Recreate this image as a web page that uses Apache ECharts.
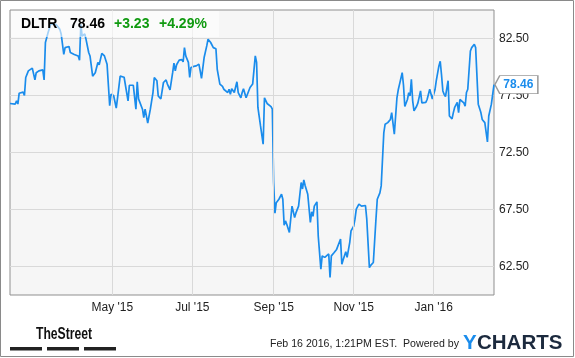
<!DOCTYPE html>
<html>
<head>
<meta charset="utf-8">
<script src="https://cdn.jsdelivr.net/npm/echarts@6/dist/echarts.min.js"></script>
<style>
html,body{margin:0;padding:0;background:#fff;}
#chart{width:575px;height:358px;}
</style>
</head>
<body>
<div id="chart"></div>
<script>
// ---- data ----
const ticker = 'DLTR';
const lastPrice = '78.46';
const change = '+3.23';
const changePct = '+4.29%';
const footerText = 'Feb 16 2016, 1:21PM EST.  Powered by';

const dates = [
'2015-02-12','2015-02-16','2015-02-17','2015-02-18','2015-02-19','2015-02-22','2015-02-23','2015-02-24','2015-02-25','2015-02-26',
'2015-03-01','2015-03-02','2015-03-03','2015-03-04','2015-03-06','2015-03-09','2015-03-10','2015-03-11','2015-03-13','2015-03-15',
'2015-03-16','2015-03-19','2015-03-22','2015-03-23','2015-03-25','2015-03-26','2015-03-29','2015-03-30','2015-04-02','2015-04-05',
'2015-04-06','2015-04-07','2015-04-08','2015-04-10','2015-04-11','2015-04-13','2015-04-14','2015-04-16','2015-04-18','2015-04-20',
'2015-04-21','2015-04-23','2015-04-25','2015-04-27','2015-04-29','2015-04-30','2015-05-02','2015-05-04','2015-05-05','2015-05-07',
'2015-05-10','2015-05-11','2015-05-13','2015-05-14','2015-05-17','2015-05-19','2015-05-20','2015-05-21','2015-05-24','2015-05-25',
'2015-05-26','2015-05-28','2015-05-30','2015-06-01','2015-06-02','2015-06-04','2015-06-05','2015-06-07','2015-06-08','2015-06-09',
'2015-06-11','2015-06-12','2015-06-14','2015-06-16','2015-06-17','2015-06-18','2015-06-19','2015-06-21','2015-06-22','2015-06-23',
'2015-06-24','2015-06-25','2015-06-26','2015-06-28','2015-06-29','2015-06-30','2015-07-02','2015-07-04','2015-07-06','2015-07-07',
'2015-07-08','2015-07-10','2015-07-12','2015-07-13','2015-07-15','2015-07-16','2015-07-17','2015-07-19','2015-07-20','2015-07-22',
'2015-07-24','2015-07-25','2015-07-26','2015-07-28','2015-07-29','2015-07-30','2015-07-31','2015-08-02','2015-08-03','2015-08-04',
'2015-08-05','2015-08-07','2015-08-08','2015-08-09','2015-08-11','2015-08-12','2015-08-14','2015-08-16','2015-08-18','2015-08-19',
'2015-08-20','2015-08-22','2015-08-24','2015-08-25','2015-08-27','2015-08-28','2015-08-30','2015-08-31','2015-09-01','2015-09-02',
'2015-09-03','2015-09-05','2015-09-07','2015-09-08','2015-09-09','2015-09-10','2015-09-11','2015-09-13','2015-09-15','2015-09-16',
'2015-09-17','2015-09-18','2015-09-20','2015-09-22','2015-09-23','2015-09-24','2015-09-25','2015-09-27','2015-09-29','2015-09-30',
'2015-10-01','2015-10-02','2015-10-04','2015-10-05','2015-10-07','2015-10-08','2015-10-10','2015-10-11','2015-10-13','2015-10-14',
'2015-10-15','2015-10-17','2015-10-19','2015-10-21','2015-10-22','2015-10-23','2015-10-24','2015-10-26','2015-10-27','2015-10-29',
'2015-10-30','2015-11-01','2015-11-02','2015-11-03','2015-11-04','2015-11-05','2015-11-07','2015-11-08','2015-11-10','2015-11-11',
'2015-11-12','2015-11-13','2015-11-14','2015-11-16','2015-11-18','2015-11-19','2015-11-21','2015-11-22','2015-11-24','2015-11-25',
'2015-11-27','2015-11-29','2015-11-30','2015-12-01','2015-12-02','2015-12-04','2015-12-05','2015-12-06','2015-12-08','2015-12-09',
'2015-12-10','2015-12-12','2015-12-13','2015-12-14','2015-12-15','2015-12-16','2015-12-17','2015-12-19','2015-12-20','2015-12-22',
'2015-12-23','2015-12-24','2015-12-26','2015-12-27','2015-12-29','2015-12-31','2016-01-02','2016-01-03','2016-01-05','2016-01-06',
'2016-01-07','2016-01-08','2016-01-09','2016-01-10','2016-01-12','2016-01-13','2016-01-14','2016-01-15','2016-01-16','2016-01-17',
'2016-01-19','2016-01-20','2016-01-21','2016-01-22','2016-01-24','2016-01-25','2016-01-26','2016-01-27','2016-01-29','2016-01-30',
'2016-02-01','2016-02-02','2016-02-04','2016-02-05','2016-02-06','2016-02-07','2016-02-09','2016-02-11','2016-02-12','2016-02-14',
'2016-02-16'
];

const prices = [
76.80,76.75,77.03,76.75,77.70,77.80,77.50,79.08,79.20,79.66,
79.90,79.75,78.87,79.50,79.66,79.75,78.87,82.15,83.00,83.75,
83.60,83.75,83.30,82.90,81.10,81.70,81.80,81.27,81.10,80.97,
80.60,83.75,82.70,82.90,82.40,81.27,80.97,79.20,79.50,80.40,
80.20,81.20,80.97,80.25,76.60,77.60,77.50,76.40,77.30,79.20,
79.10,79.20,77.03,78.40,78.40,76.30,78.70,77.20,76.30,75.57,
76.30,75.07,76.30,77.76,79.08,78.80,77.46,77.20,77.20,78.64,
78.87,78.50,78.00,79.50,80.33,79.66,80.20,80.60,80.50,80.65,
80.45,81.70,80.97,80.40,79.08,79.96,80.05,80.10,80.25,79.66,
79.00,80.83,81.85,82.44,82.15,82.00,81.70,81.60,79.80,78.50,
78.30,78.05,78.20,77.76,78.05,77.60,78.10,77.76,77.60,78.70,
77.76,77.30,77.76,78.10,77.30,77.40,78.20,78.50,80.97,80.40,
76.45,74.83,73.23,77.30,76.80,76.75,76.53,76.30,69.87,67.18,
68.10,68.40,68.84,68.40,66.12,66.50,66.20,65.48,67.80,67.85,
66.80,67.20,67.80,69.87,69.30,70.10,69.60,68.84,66.36,67.30,
66.90,67.80,68.17,65.18,62.26,63.43,63.30,63.30,63.60,61.53,
63.43,63.70,64.00,64.60,64.90,62.70,63.10,63.80,63.30,64.60,
65.62,66.03,66.65,67.53,67.40,67.97,67.80,67.70,67.85,66.65,
66.60,62.40,62.60,62.85,66.65,68.40,68.96,69.57,74.25,74.98,
75.12,75.40,76.00,76.10,74.10,77.30,78.00,78.50,79.50,78.40,
76.53,77.15,77.76,77.46,78.93,77.03,76.15,76.56,76.85,77.90,
76.85,76.70,76.90,77.15,78.05,77.20,78.00,78.80,80.10,80.50,
79.30,77.90,77.60,77.40,78.80,75.70,75.78,75.45,76.00,76.45,
76.90,76.00,77.15,77.30,76.85,76.56,77.76,78.05,81.40,81.70,
82.00,81.70,76.74,76.60,76.00,75.40,75.12,73.43,75.70,76.74,
78.46
];

const xStart = '2015-02-12';
const xEnd = '2016-02-16';
const xTickDates = ['2015-05-01','2015-07-01','2015-09-01','2015-11-01','2016-01-01'];
const xTickLabels = ["May '15","Jul '15","Sep '15","Nov '15","Jan '16"];
const yTickLabels = ['62.50','67.50','72.50','77.50','82.50'];
const yMin = 60, yMax = 85, yStep = 2.5;

// ---- helpers ----
function parseDay(s){ const p = s.split('-').map(Number); return Date.UTC(p[0], p[1]-1, p[2]); }
const xTickTimes = xTickDates.map(parseDay);
const seriesData = dates.map((d,i)=>[parseDay(d), prices[i]]);
const last = seriesData[seriesData.length-1];

const chart = echarts.init(document.getElementById('chart'), null, {renderer:'canvas'});
const FONT = '"Liberation Sans", Arial, sans-serif';
const BLUE = '#1a8cec';
const GREEN = '#109a10';

const option = {
  animation: false,
  backgroundColor: '#ffffff',
  grid: {
    left: 10, top: 10, width: 484, height: 285,
    show: true, backgroundColor: '#f6f6f6', borderColor: '#8f8f8f', borderWidth: 1,
    containLabel: false
  },
  xAxis: {
    type: 'value',
    min: parseDay(xStart), max: parseDay(xEnd),
    axisLine: {show: false},
    axisTick: {show: false},
    splitLine: {show: false},
    axisLabel: {
      customValues: xTickTimes,
      color: '#222', fontSize: 12, fontFamily: FONT, margin: 7,
      hideOverlap: false,
      formatter: function(v){ const i = xTickTimes.indexOf(v); return i >= 0 ? xTickLabels[i] : ''; }
    }
  },
  yAxis: {
    type: 'value', position: 'right',
    min: yMin, max: yMax, interval: yStep,
    axisLine: {show: false},
    axisTick: {show: false},
    splitLine: {show: true, lineStyle: {color: ['rgba(0,0,0,0)', '#d9d9d9'], width: 1}},
    axisLabel: {
      color: '#222', fontSize: 12, fontFamily: FONT, margin: 5,
      formatter: function(v){ const s = v.toFixed(2); return yTickLabels.indexOf(s) >= 0 ? s : ''; }
    }
  },
  series: [
    {
      type: 'line', data: [], z: 1, silent: true,
      markLine: {
        silent: true, symbol: ['none','none'], animation: false,
        label: {show: false},
        lineStyle: {color: '#d9d9d9', width: 1, type: 'solid'},
        emphasis: {disabled: true},
        data: xTickTimes.map(t => ({xAxis: t}))
      }
    },
    {
      type: 'line', data: seriesData, z: 3,
      showSymbol: false, symbol: 'none', smooth: false,
      lineStyle: {color: BLUE, width: 1.7},
      markPoint: {
        silent: true, animation: false, z: 20,
        symbol: 'path://M0,9 L5,0 L44,0 L44,18 L5,18 Z',
        symbolSize: [43, 18], symbolOffset: ['52%', 0],
        itemStyle: {color: '#ffffff', borderColor: '#9a9a9a', borderWidth: 1},
        label: {
          show: true, position: 'inside', offset: [2, 0],
          color: BLUE, fontWeight: 'bold', fontSize: 12, fontFamily: FONT,
          formatter: function(){ return lastPrice; }
        },
        data: [{coord: last, value: last[1]}]
      }
    }
  ],
  graphic: [
    {type:'rect', silent:true, z: 100, shape:{x:0.5, y:0.5, width:573, height:356},
      style:{fill:'none', stroke:'#8a8a8a', lineWidth:1}},
    {type:'rect', silent:true, z: 50, shape:{x:11, y:11, width:208, height:26},
      style:{fill:'rgba(255,255,255,0.6)'}},
    {type:'text', z: 60, left: 21, top: 17, style:{text: ticker, fill:'#000', font:'bold 14px ' + FONT}},
    {type:'text', z: 60, left: 70, top: 17, style:{text: lastPrice, fill:'#000', font:'bold 14px ' + FONT}},
    {type:'text', z: 60, left: 114, top: 17, style:{text: change, fill: GREEN, font:'bold 14px ' + FONT}},
    {type:'text', z: 60, left: 159, top: 17, style:{text: changePct, fill: GREEN, font:'bold 14px ' + FONT}},
    // footer
    {type:'text', z: 60, x: 36, y: 327, scaleX: 0.76, scaleY: 1,
      style:{text:'TheStreet', fill:'#111', font:'bold 16px ' + FONT}},
    {type:'rect', z: 60, shape:{x:10, y:347, width:32, height:3.5}, style:{fill:'#222'}},
    {type:'rect', z: 60, shape:{x:47, y:347, width:32, height:3.5}, style:{fill:'#222'}},
    {type:'rect', z: 60, shape:{x:84, y:347, width:32, height:3.5}, style:{fill:'#222'}},
    {type:'text', z: 60, right: 116, top: 339, style:{text: footerText, fill:'#222', font:'10.6px ' + FONT}},
    {type:'text', z: 60, left: 463, top: 333, style:{text:'Y', fill:'#1a8cec', font:'bold 20.5px ' + FONT}},
    {type:'text', z: 60, left: 477, top: 333, style:{text:'CHARTS', fill:'#1c2a3e', font:'bold 20.5px ' + FONT}}
  ]
};
chart.setOption(option);
</script>
</body>
</html>
